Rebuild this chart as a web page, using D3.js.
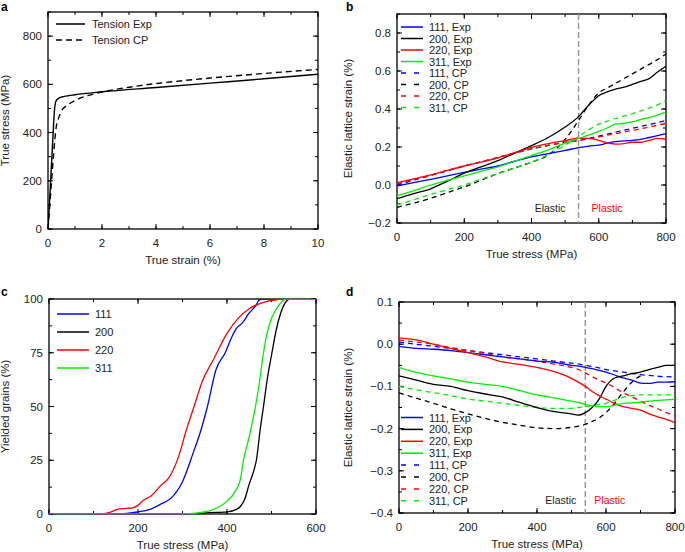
<!DOCTYPE html>
<html><head><meta charset="utf-8">
<script src="https://cdn.jsdelivr.net/npm/d3@7"></script>
<style>body{margin:0;background:#fff}svg{font-family:"Liberation Sans",Arial,Helvetica,sans-serif}</style>
</head><body><svg id="c" width="685" height="552"></svg>
<script>
// ---------- Panel a data ----------
const aExp = [[0,0],[0.05,100],[0.1,205],[0.15,310],[0.2,420],[0.25,505],[0.3,532],[0.4,543],[0.6,550],[1,557],[2,569],[4,587],[6,605],[8,623],[10,642]];
const aCP = [[0,0],[0.1,150],[0.2,300],[0.3,420],[0.4,462],[0.5,490],[0.7,512],[1,533],[1.5,554],[2,568],[3,588],[4,603],[6,626],[8,645],[10,662]];
const aLabels = ["Tension Exp","Tension CP"];

// ---------- Panel b data (true stress MPa, elastic lattice strain %) ----------
const bStress = [0,50,100,150,200,250,300,350,400,450,500,540,570,600,625,650,675,700,725,750,775,800];
const b111Exp = [-0.005,0.012,0.03,0.048,0.066,0.083,0.10,0.125,0.148,0.165,0.182,0.197,0.205,0.21,0.22,0.228,0.232,0.235,0.24,0.25,0.26,0.27];
const b200Exp = [-0.072,-0.045,-0.02,0.02,0.062,0.095,0.128,0.168,0.207,0.25,0.305,0.36,0.42,0.47,0.49,0.505,0.515,0.53,0.545,0.56,0.595,0.625];
const b220Exp = [0.012,0.032,0.053,0.077,0.10,0.12,0.143,0.17,0.198,0.218,0.234,0.245,0.245,0.235,0.222,0.215,0.218,0.225,0.225,0.235,0.245,0.242];
const b311Exp = [-0.057,-0.03,0.0,0.025,0.048,0.072,0.095,0.125,0.155,0.185,0.22,0.245,0.262,0.282,0.30,0.32,0.325,0.332,0.345,0.355,0.368,0.385];
const b111CP = [0.0,0.025,0.05,0.075,0.10,0.122,0.145,0.168,0.19,0.208,0.225,0.234,0.245,0.257,0.268,0.278,0.288,0.298,0.308,0.318,0.328,0.34];
const b200CP = [-0.118,-0.095,-0.07,-0.04,-0.01,0.025,0.06,0.09,0.12,0.158,0.24,0.34,0.42,0.485,0.51,0.535,0.56,0.585,0.61,0.635,0.66,0.69];
const b220CP = [0.005,0.03,0.052,0.077,0.10,0.122,0.145,0.168,0.19,0.208,0.225,0.234,0.243,0.252,0.262,0.27,0.279,0.288,0.296,0.305,0.314,0.325];
const b311CP = [-0.105,-0.078,-0.05,-0.025,0.0,0.03,0.06,0.09,0.12,0.16,0.21,0.255,0.29,0.32,0.335,0.35,0.362,0.375,0.39,0.405,0.422,0.445];

// ---------- Panel c data (true stress MPa, yielded grains %) ----------
const c111 = [[0,0],[160,0],[200,1],[225,2],[250,4.5],[275,7.5],[300,15],[325,29],[340,38],[356,50],[375,67],[396,75],[410,82],[420,86],[435,89],[450,93.5],[465,97],[472,99.5],[480,100],[600,100]];
const c200 = [[0,0],[330,0],[350,0.5],[400,1],[420,2],[430,3.5],[440,7],[450,14],[460,20],[466,25],[475,40],[482,50],[490,62],[501,75],[510,85],[520,93],[530,98],[542,100],[600,100]];
const c220 = [[0,0],[120,0],[140,1],[155,2.3],[175,2.6],[190,3],[200,4],[210,6],[230,8.5],[250,13],[270,17],[290,26],[310,40],[326,50],[345,62],[370,72],[400,84],[425,91],[450,95.5],[475,98],[500,99.3],[530,100],[600,100]];
const c311 = [[0,0],[300,0],[350,1],[380,3],[400,6],[420,11],[430,16],[437,25],[450,36],[464,50],[472,60],[482,75],[490,84],[500,91],[510,95],[520,98],[532,100],[600,100]];
const cLabels = ["111","200","220","311"];

// ---------- Panel d data ----------
const dStress = [0,50,100,150,200,250,300,350,400,450,500,520,540,560,580,600,625,650,675,700,725,750,775,800];
const d111Exp = [-0.005,-0.01,-0.012,-0.015,-0.02,-0.025,-0.03,-0.035,-0.04,-0.043,-0.05,-0.052,-0.055,-0.058,-0.062,-0.066,-0.073,-0.08,-0.085,-0.092,-0.093,-0.09,-0.09,-0.089];
const d200Exp = [-0.075,-0.085,-0.095,-0.1,-0.11,-0.118,-0.125,-0.138,-0.15,-0.16,-0.165,-0.168,-0.162,-0.15,-0.13,-0.1,-0.08,-0.075,-0.07,-0.066,-0.06,-0.055,-0.05,-0.05];
const d220Exp = [0.015,0.01,0.0,-0.01,-0.02,-0.03,-0.042,-0.048,-0.055,-0.065,-0.081,-0.09,-0.1,-0.112,-0.122,-0.13,-0.14,-0.148,-0.152,-0.156,-0.165,-0.172,-0.178,-0.186];
const d311Exp = [-0.055,-0.067,-0.075,-0.082,-0.09,-0.095,-0.1,-0.11,-0.12,-0.127,-0.135,-0.138,-0.143,-0.146,-0.148,-0.148,-0.145,-0.14,-0.139,-0.137,-0.135,-0.133,-0.132,-0.13];
const d111CP = [0.005,0.0,-0.005,-0.01,-0.015,-0.02,-0.025,-0.03,-0.035,-0.04,-0.045,-0.047,-0.05,-0.053,-0.056,-0.06,-0.063,-0.066,-0.069,-0.072,-0.074,-0.076,-0.077,-0.078];
const d200CP = [-0.115,-0.128,-0.14,-0.153,-0.165,-0.176,-0.185,-0.192,-0.198,-0.2,-0.197,-0.194,-0.19,-0.183,-0.175,-0.162,-0.14,-0.113,-0.09,-0.075,null,null,null,null];
const d220CP = [0.01,0.005,0.0,-0.008,-0.015,-0.022,-0.03,-0.035,-0.04,-0.047,-0.055,-0.06,-0.068,-0.077,-0.085,-0.092,-0.103,-0.115,-0.125,-0.135,-0.145,-0.153,-0.162,-0.17];
const d311CP = [-0.1,-0.108,-0.115,-0.122,-0.13,-0.135,-0.14,-0.145,-0.15,-0.152,-0.152,-0.15,-0.148,-0.146,-0.143,-0.14,-0.133,-0.126,-0.122,-0.12,-0.12,-0.12,-0.12,-0.12];
const bdLabels = ["111, Exp","200, Exp","220, Exp","311, Exp","111, CP","200, CP","220, CP","311, CP"];
const hklColors = ["#0000ff","#000000","#ff0000","#00ee00"];
const yieldStress = 540;

const svg = d3.select("#c");

function panel(o){
  const x = d3.scaleLinear().domain(o.xd).range([o.l,o.r]);
  const y = d3.scaleLinear().domain(o.yd).range([o.b,o.t]);
  const g = svg.append("g");
  const fmtY = o.fy ? d3.format(o.fy) : d3.format("d");
  const addTicks = (vals,len,axis)=>{
    vals.forEach(v=>{
      if(axis==="x"){
        const px = x(v);
        g.append("line").attr("x1",px).attr("x2",px).attr("y1",o.b).attr("y2",o.b-len).attr("stroke","#000").attr("stroke-width",1);
        g.append("line").attr("x1",px).attr("x2",px).attr("y1",o.t).attr("y2",o.t+len).attr("stroke","#000").attr("stroke-width",1);
      } else {
        const py = y(v);
        g.append("line").attr("x1",o.l).attr("x2",o.l+len).attr("y1",py).attr("y2",py).attr("stroke","#000").attr("stroke-width",1);
        g.append("line").attr("x1",o.r).attr("x2",o.r-len).attr("y1",py).attr("y2",py).attr("stroke","#000").attr("stroke-width",1);
      }
    });
  };
  const range = (a,b,s)=>{const out=[];for(let v=a;v<=b+1e-9;v+=s)out.push(+v.toFixed(6));return out;};
  addTicks(range(o.xd[0],o.xd[1],o.xminor),3,"x");
  addTicks(o.xticks,5,"x");
  addTicks(range(o.yd[0],o.yd[1],o.yminor),3,"y");
  addTicks(o.yticks,5,"y");
  g.append("rect").attr("x",o.l).attr("y",o.t).attr("width",o.r-o.l).attr("height",o.b-o.t).attr("fill","none").attr("stroke","#000").attr("stroke-width",1.3);
  o.xticks.forEach(v=>g.append("text").attr("x",x(v)).attr("y",o.b+18).attr("text-anchor","middle").attr("font-size",11.5).attr("fill","#222").text(d3.format("d")(v)));
  o.yticks.forEach(v=>g.append("text").attr("x",o.l-6).attr("y",y(v)+4).attr("text-anchor","end").attr("font-size",11.5).attr("fill","#222").text(fmtY(v)));
  g.append("text").attr("x",(o.l+o.r)/2).attr("y",o.b+35).attr("text-anchor","middle").attr("font-size",11.5).attr("fill","#222").text(o.xt);
  g.append("text").attr("transform",`translate(${o.ytx},${(o.t+o.b)/2}) rotate(-90)`).attr("text-anchor","middle").attr("font-size",11.5).attr("fill","#222").text(o.yt);
  g.append("text").attr("x",o.lx).attr("y",o.ly).attr("font-size",12).attr("font-weight","bold").text(o.letter);
  const clip = "clip"+o.letter;
  svg.append("clipPath").attr("id",clip).append("rect").attr("x",o.l).attr("y",o.t).attr("width",o.r-o.l).attr("height",o.b-o.t);
  const dg = svg.append("g").attr("clip-path",`url(#${clip})`);
  return {x,y,g,dg};
}

function drawLine(p, pts, color, dash, w){
  const line = d3.line().defined(d=>d[1]!==null).x(d=>p.x(d[0])).y(d=>p.y(d[1])).curve(d3.curveMonotoneX);
  p.dg.append("path").attr("d",line(pts)).attr("fill","none").attr("stroke",color).attr("stroke-width",w||1.3).attr("stroke-dasharray",dash||null);
}
function legend(p, items, x0, x1, tx, y0, dy){
  items.forEach((it,i)=>{
    const yy = y0+i*dy;
    p.g.append("line").attr("x1",x0).attr("x2",x1).attr("y1",yy).attr("y2",yy).attr("stroke",it.c).attr("stroke-width",1.5).attr("stroke-dasharray",it.d||null);
    p.g.append("text").attr("x",tx).attr("y",yy+4).attr("font-size",11).attr("fill","#222").text(it.t);
  });
}

// ---- Panel a ----
const pa = panel({l:48,r:318,t:12,b:229,xd:[0,10],yd:[0,900],xticks:[0,2,4,6,8,10],xminor:1,yticks:[0,200,400,600,800],yminor:100,
  xt:"True strain (%)",yt:"True stress (MPa)",ytx:9,letter:"a",lx:1,ly:11});
drawLine(pa,aExp,"#000",null,1.4);
drawLine(pa,aCP,"#000","6,4",1.4);
legend(pa,[{c:"#000",t:aLabels[0]},{c:"#000",t:aLabels[1],d:"6,4"}],56,85,92,24,16);

// ---- Panel b ----
const pb = panel({l:397,r:666,t:14,b:223,xd:[0,800],yd:[-0.2,0.9],xticks:[0,200,400,600,800],xminor:100,yticks:[-0.2,0,0.2,0.4,0.6,0.8],yminor:0.1,fy:".1f",
  xt:"True stress (MPa)",yt:"Elastic lattice strain (%)",ytx:352,letter:"b",lx:346,ly:11});
pb.dg.append("line").attr("x1",pb.x(yieldStress)).attr("x2",pb.x(yieldStress)).attr("y1",14).attr("y2",223).attr("stroke","#999").attr("stroke-width",1.5).attr("stroke-dasharray","6,3");
const bExp=[b111Exp,b200Exp,b220Exp,b311Exp], bCP=[b111CP,b200CP,b220CP,b311CP];
bCP.forEach((s,i)=>drawLine(pb,bStress.map((v,j)=>[v,s[j]]),hklColors[i],"5,4",1.3));
bExp.forEach((s,i)=>drawLine(pb,bStress.map((v,j)=>[v,s[j]]),hklColors[i],null,1.3));
legend(pb,bdLabels.map((t,i)=>({t,c:hklColors[i%4],d:i>=4?"5,8":null})),401,423,429,27,11.5);
pb.g.append("text").attr("x",pb.x(yieldStress)-13).attr("y",212).attr("text-anchor","end").attr("font-size",10.5).attr("fill","#222").text("Elastic");
pb.g.append("text").attr("x",pb.x(yieldStress)+13).attr("y",212).attr("font-size",10.5).attr("fill","#ff0000").text("Plastic");

// ---- Panel c ----
const pc = panel({l:49,r:316,t:299,b:514,xd:[0,600],yd:[0,100],xticks:[0,200,400,600],xminor:100,yticks:[0,25,50,75,100],yminor:12.5,
  xt:"True stress (MPa)",yt:"Yielded grains (%)",ytx:9,letter:"c",lx:1,ly:296});
[c111,c200,c220,c311].forEach((s,i)=>drawLine(pc,s,hklColors[i],null,1.3));
legend(pc,cLabels.map((t,i)=>({t,c:hklColors[i]})),57,89,95,314,18);

// ---- Panel d ----
const pd = panel({l:399,r:675,t:302,b:513,xd:[0,800],yd:[-0.4,0.1],xticks:[0,200,400,600,800],xminor:100,yticks:[-0.4,-0.3,-0.2,-0.1,0,0.1],yminor:0.05,fy:".1f",
  xt:"True stress (MPa)",yt:"Elastic lattice strain (%)",ytx:352,letter:"d",lx:346,ly:296});
pd.dg.append("line").attr("x1",pd.x(yieldStress)).attr("x2",pd.x(yieldStress)).attr("y1",302).attr("y2",513).attr("stroke","#999").attr("stroke-width",1.5).attr("stroke-dasharray","6,3");
const dExp=[d111Exp,d200Exp,d220Exp,d311Exp], dCP=[d111CP,d200CP,d220CP,d311CP];
dCP.forEach((s,i)=>drawLine(pd,dStress.map((v,j)=>[v,s[j]]),hklColors[i],"5,4",1.3));
dExp.forEach((s,i)=>drawLine(pd,dStress.map((v,j)=>[v,s[j]]),hklColors[i],null,1.3));
legend(pd,bdLabels.map((t,i)=>({t,c:hklColors[i%4],d:i>=4?"5,8":null})),401,423,429,417.5,11.9);
pd.g.append("text").attr("x",pd.x(yieldStress)-9).attr("y",504).attr("text-anchor","end").attr("font-size",10.5).attr("fill","#222").text("Elastic");
pd.g.append("text").attr("x",pd.x(yieldStress)+9).attr("y",504).attr("font-size",10.5).attr("fill","#ff0000").text("Plastic");
</script></body></html>
